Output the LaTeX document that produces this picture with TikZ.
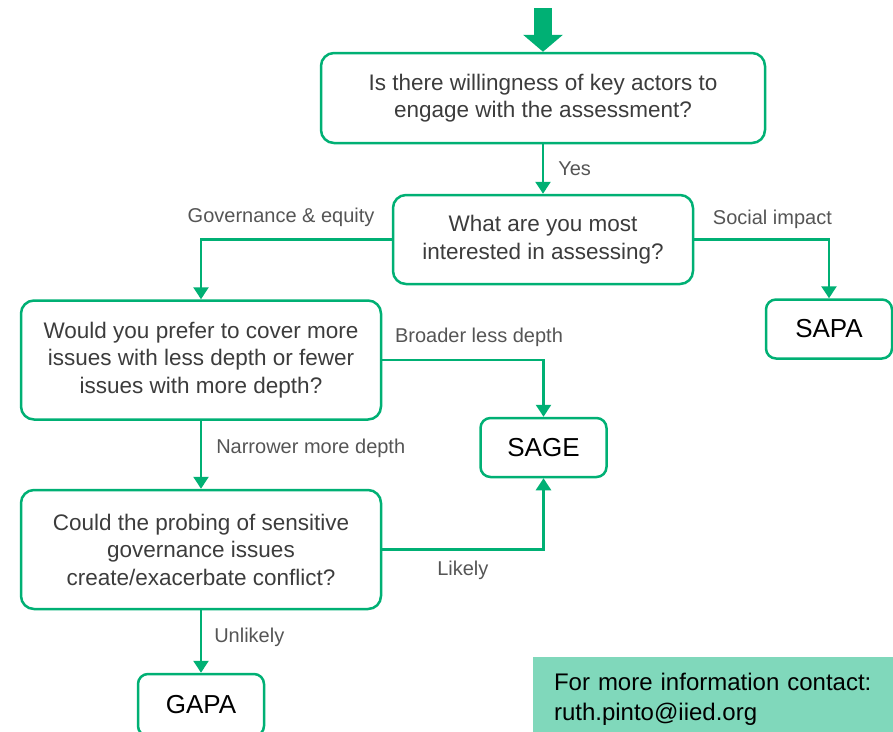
\documentclass[tikz,border=0pt]{standalone}
\usepackage{fontspec}
\setmainfont{Liberation Sans}
\usetikzlibrary{arrows.meta,positioning}

\definecolor{flowgreen}{RGB}{0,176,116}
\definecolor{infogreen}{RGB}{128,216,187}
\definecolor{qgray}{RGB}{60,60,60}
\definecolor{lblgray}{RGB}{85,85,85}

\begin{document}
\begin{tikzpicture}[x=1pt,y=-1pt,
    question/.style={draw=flowgreen,line width=2.5pt,rounded corners=13pt,align=center,
                     text=qgray,inner sep=0pt,font=\fontsize{22.5}{27.5}\selectfont},
    outcome/.style={draw=flowgreen,line width=2.5pt,rounded corners=10pt,inner sep=0pt,
                    minimum width=126pt,minimum height=59pt,font=\fontsize{26}{30}\selectfont},
    lbl/.style={text=lblgray,inner sep=0pt,font=\fontsize{20}{24}\selectfont},
    flow/.style={draw=flowgreen,line width=2.5pt,-{Triangle[width=15pt,length=12pt]}}]

\useasboundingbox (0,0) rectangle (893,731);

\coordinate (start) at (543,8);
\node[question,minimum width=444pt,minimum height=90pt] (q1) at (543,98) {Is there willingness of key actors to\\engage with the assessment?};
\node[question,minimum width=300pt,minimum height=89pt] (q2) at (543,239.5) {What are you most\\interested in assessing?};
\node[question,minimum width=360pt,minimum height=119pt] (q3) at (201,360) {Would you prefer to cover more\\issues with less depth or fewer\\issues with more depth?};
\node[question,minimum width=360pt,minimum height=119pt] (q4) at (201,549.5) {Could the probing of sensitive\\governance issues\\create/exacerbate conflict?};
\node[outcome] (sage) at (543.5,447.5) {SAGE};
\node[outcome] (sapa) at (829,329) {SAPA};
\node[outcome,minimum height=62pt] (gapa) at (201,705) {GAPA};
\node[fill=infogreen,minimum width=360pt,minimum height=84pt,inner xsep=21pt,text width=318pt,
      align=left,font=\fontsize{24}{30}\selectfont] (info) at (713,699) {For more information contact:\\ruth.pinto@iied.org};

% connectors
\draw[draw=flowgreen,line width=18pt,-{Triangle[width=39pt,length=17pt]}] (start) -- (q1.north);
\draw[flow] (q1) -- node[lbl,right=14pt] (yes) {Yes} (q2);
\draw[flow] (q2.west) -| node[lbl,above=12pt,pos=0.29] (gov) {Governance \& equity} (q3.north);
\draw[flow] (q2.east) -| node[lbl,above=10pt,pos=0.29] (soc) {Social impact} (sapa.north);
\draw[flow] (q3.east) -| node[lbl,above=12pt,pos=0.3] (broad) {Broader less depth} (sage.north);
\draw[flow] (q3) -- node[lbl,right=14pt,pos=0.4] (narrow) {Narrower more depth} (q4);
\draw[flow] (q4.east) -| node[lbl,below=10pt,pos=0.25] (likely) {Likely} (sage.south);
\draw[flow] (q4) -- node[lbl,right=12pt,pos=0.43] (unlikely) {Unlikely} (gapa);

\end{tikzpicture}
\end{document}
